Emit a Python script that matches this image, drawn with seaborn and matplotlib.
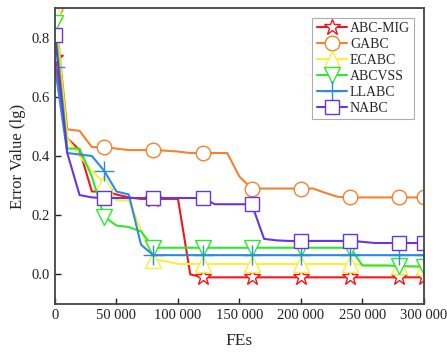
import numpy as np
import pandas as pd
import seaborn as sns
import matplotlib
matplotlib.use("Agg")
import matplotlib.pyplot as plt

# FEs sampled every 10 000
fes = list(range(0, 300001, 10000))

abc_mig = [0.73, 0.46, 0.42, 0.28, 0.28, 0.27, 0.26, 0.255, 0.255, 0.255, 0.255,
           0.0, -0.01, -0.01, -0.01, -0.01, -0.01, -0.01, -0.01, -0.01, -0.01,
           -0.01, -0.01, -0.01, -0.01, -0.01, -0.01, -0.01, -0.01, -0.01, -0.01]
gabc = [0.90, 0.49, 0.485, 0.43, 0.43, 0.425, 0.42, 0.42, 0.42, 0.418, 0.415,
        0.41, 0.41, 0.41, 0.41, 0.33, 0.29, 0.29, 0.29, 0.29, 0.29,
        0.29, 0.275, 0.262, 0.26, 0.26, 0.26, 0.26, 0.26, 0.26, 0.26]
ecabc = [0.89, 0.46, 0.40, 0.35, 0.31, 0.25, 0.25, 0.15, 0.05, 0.045, 0.035,
         0.035, 0.035, 0.035, 0.035, 0.035, 0.035, 0.035, 0.035, 0.035, 0.035,
         0.035, 0.035, 0.035, 0.035, 0.033, 0.03, 0.03, 0.028, 0.027, 0.026]
abcvss = [0.85, 0.425, 0.425, 0.33, 0.195, 0.165, 0.16, 0.145, 0.09, 0.09, 0.09,
          0.09, 0.09, 0.09, 0.09, 0.09, 0.09, 0.09, 0.09, 0.09, 0.09,
          0.09, 0.09, 0.09, 0.09, 0.03, 0.03, 0.03, 0.028, 0.027, 0.026]
llabc = [0.70, 0.41, 0.405, 0.40, 0.35, 0.28, 0.27, 0.10, 0.065, 0.065, 0.065,
         0.065, 0.065, 0.065, 0.065, 0.065, 0.065, 0.065, 0.065, 0.065, 0.065,
         0.065, 0.065, 0.065, 0.065, 0.065, 0.065, 0.065, 0.065, 0.065, 0.065]
nabc = [0.81, 0.41, 0.268, 0.26, 0.258, 0.258, 0.258, 0.258, 0.258, 0.258, 0.258,
        0.258, 0.258, 0.237, 0.237, 0.237, 0.237, 0.12, 0.115, 0.113, 0.113,
        0.113, 0.113, 0.113, 0.113, 0.11, 0.106, 0.106, 0.106, 0.106, 0.106]

names = ["ABC-MIG", "GABC", "ECABC", "ABCVSS", "LLABC", "NABC"]
series = [abc_mig, gabc, ecabc, abcvss, llabc, nabc]
colors = ["#f5161b", "#f5822e", "#f9f03a", "#2ee82e", "#2a8ae6", "#6a35e0"]
markers = ["*", "o", "^", "v", "+", "s"]
sizes = [12, 10.5, 11.5, 11.5, 14, 9.5]

mark_idx = [0, 4, 8, 12, 16, 20, 24, 28, 30]

sns.set_style("ticks")
plt.rcParams["font.family"] = ["Liberation Serif", "DejaVu Serif"]

fig = plt.figure(figsize=(4.47, 3.55), dpi=100)
ax = fig.add_axes([0.123, 0.1437, 0.8255, 0.8338])

for name, vals, c, m, s in zip(names, series, colors, markers, sizes):
    sns.lineplot(x=fes, y=vals, ax=ax, color=c, marker=m, markersize=s,
                 markevery=mark_idx, markerfacecolor="white",
                 markeredgecolor=c, markeredgewidth=1.0, linewidth=1.5,
                 label=name, clip_on=True)

ax.set_xlim(0, 300000)
ax.set_ylim(-0.1, 0.9)
ax.set_xticks([0, 50000, 100000, 150000, 200000, 250000, 300000])
ax.set_xticklabels(["0", "50 000", "100 000", "150 000", "200 000", "250 000", "300 000"])
ax.set_yticks([0.0, 0.2, 0.4, 0.6, 0.8])
ax.set_yticklabels(["0.0", "0.2", "0.4", "0.6", "0.8"])
ax.tick_params(direction="in", length=4, width=1, labelsize=10.5, colors="#222222")
for sp in ax.spines.values():
    sp.set_color("#444444")
    sp.set_linewidth(1.3)

ax.set_xlabel("FEs", fontsize=12.5, labelpad=8)
ax.set_ylabel("Error Value (lg)", fontsize=12)

leg = ax.legend(loc="upper right", fontsize=10, frameon=True, fancybox=False,
                edgecolor="#999999", handlelength=2.2, handletextpad=0.2,
                labelspacing=0.22, borderpad=0.3, borderaxespad=0.7)
leg.get_frame().set_linewidth(0.8)

plt.savefig("out.png", dpi=100)
plt.close()
